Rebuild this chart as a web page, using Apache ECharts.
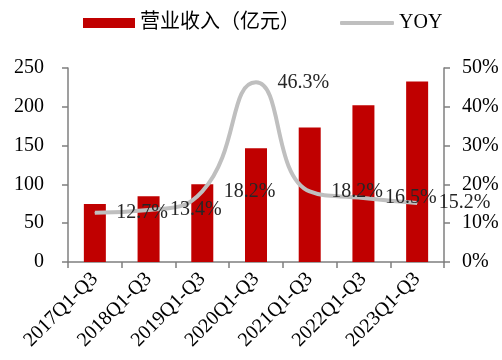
<!DOCTYPE html>
<html>
<head>
<meta charset="utf-8">
<script src="https://cdn.jsdelivr.net/npm/echarts@6/dist/echarts.min.js"></script>
<style>
  html, body { margin: 0; padding: 0; background: #fff; }
  #chart { width: 502px; height: 360px; }
</style>
</head>
<body>
<div id="chart"></div>
<script>
// Quarterly (Q1-Q3) revenue and year-over-year growth
const categories = ['2017Q1-Q3', '2018Q1-Q3', '2019Q1-Q3', '2020Q1-Q3', '2021Q1-Q3', '2022Q1-Q3', '2023Q1-Q3'];
const revenue = [74.6, 84.6, 100.3, 146.7, 173.4, 202.0, 232.7];   // 亿元
const yoy = [12.7, 13.4, 18.2, 46.3, 18.2, 16.5, 15.2];             // %
const leftTicks = { min: 0, max: 250, interval: 50 };
const rightTicks = { min: 0, max: 50, interval: 10 };

const serif = '"Liberation Serif", "Times New Roman", "Noto Sans CJK SC", serif';
const axisGray = '#7f7f7f';

const chart = echarts.init(document.getElementById('chart'), null, { renderer: 'canvas' });
chart.setOption({
  animation: false,
  textStyle: { fontFamily: serif },
  legend: [
    {
      data: ['营业收入（亿元）'],
      left: 78, top: 8,
      itemWidth: 52, itemHeight: 10,
      icon: 'rect',
      textStyle: { fontFamily: serif, fontSize: 20, color: '#000' }
    },
    {
      data: ['YOY'],
      left: 335, top: 8,
      itemWidth: 54, itemHeight: 4,
      icon: 'roundRect',
      itemStyle: { color: '#bfbfbf' },
      textStyle: { fontFamily: serif, fontSize: 20, color: '#000' }
    }
  ],
  grid: { left: 68, right: 58, top: 68, bottom: 98 },
  xAxis: {
    type: 'category',
    data: categories,
    boundaryGap: true,
    axisLine: { lineStyle: { color: axisGray, width: 1.5 } },
    axisTick: { show: true, length: 6, lineStyle: { color: axisGray, width: 1.5 } },
    axisLabel: { rotate: 45, fontSize: 20, color: '#000', fontFamily: serif, margin: 14, interval: 0 }
  },
  yAxis: [
    {
      type: 'value',
      min: leftTicks.min, max: leftTicks.max, interval: leftTicks.interval,
      splitLine: { show: false },
      axisLine: { show: true, lineStyle: { color: axisGray, width: 1.5 } },
      axisTick: { show: true, length: 6, lineStyle: { color: axisGray, width: 1.5 } },
      axisLabel: { fontSize: 20, color: '#000', fontFamily: serif, margin: 24 }
    },
    {
      type: 'value',
      position: 'right',
      min: rightTicks.min, max: rightTicks.max, interval: rightTicks.interval,
      splitLine: { show: false },
      axisLine: { show: true, lineStyle: { color: axisGray, width: 1.5 } },
      axisTick: { show: true, length: 6, lineStyle: { color: axisGray, width: 1.5 } },
      axisLabel: { fontSize: 20, color: '#000', fontFamily: serif, margin: 18, formatter: '{value}%' }
    }
  ],
  series: [
    {
      name: '营业收入（亿元）',
      type: 'bar',
      data: revenue,
      barWidth: 22,
      itemStyle: { color: '#c00000' }
    },
    {
      name: 'YOY',
      type: 'line',
      yAxisIndex: 1,
      data: yoy,
      smooth: 0.5,
      symbol: 'circle',
      symbolSize: 1,
      itemStyle: { color: '#bfbfbf' },
      lineStyle: { color: '#bfbfbf', width: 4 },
      z: 3,
      label: {
        show: true,
        position: 'right',
        distance: 21,
        fontSize: 20,
        fontFamily: serif,
        color: '#262626',
        formatter: p => p.value.toFixed(1) + '%'
      }
    }
  ]
});
</script>
</body>
</html>
